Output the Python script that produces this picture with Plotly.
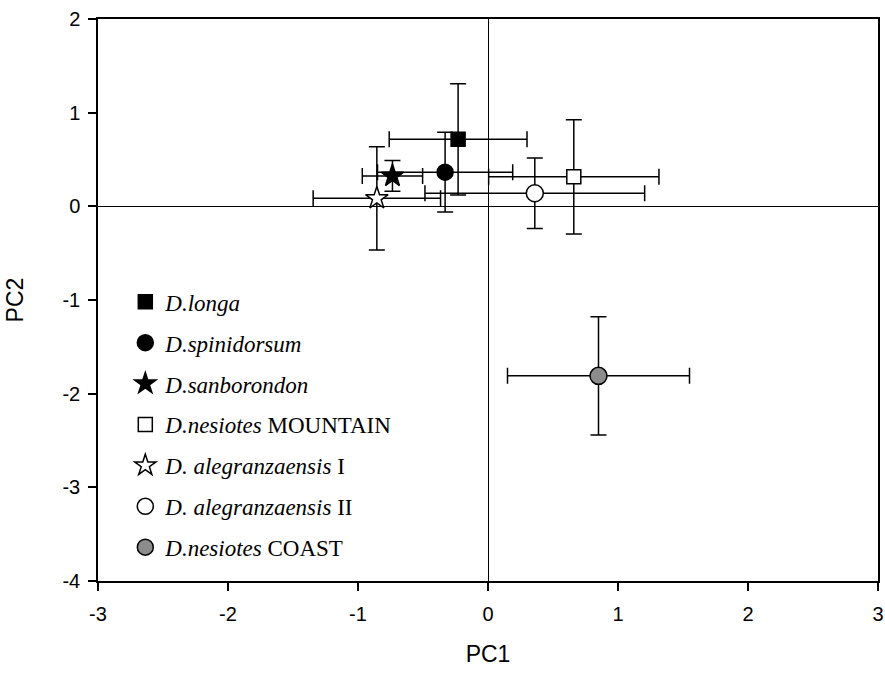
import plotly.graph_objects as go

names = ["<i>D.longa</i>", "<i>D.spinidorsum</i>", "<i>D.sanborondon</i>",
         "<i>D.nesiotes</i> MOUNTAIN", "<i>D. alegranzaensis</i> I",
         "<i>D. alegranzaensis</i> II", "<i>D.nesiotes</i> COAST"]
pc1 = [-0.23, -0.33, -0.735, 0.66, -0.855, 0.36, 0.85]
pc2 = [0.715, 0.365, 0.325, 0.315, 0.085, 0.14, -1.81]
pc1_err = [0.53, 0.52, 0.232, 0.655, 0.49, 0.845, 0.70]
pc2_err = [0.595, 0.425, 0.165, 0.61, 0.55, 0.377, 0.63]

x_ticks = [-3, -2, -1, 0, 1, 2, 3]
x_tick_labels = ["-3", "-2", "-1", "0", "1", "2", "3"]
y_ticks = [-4, -3, -2, -1, 0, 1, 2]
y_tick_labels = ["-4", "-3", "-2", "-1", "0", "1", "2"]

symbols = ["square", "circle", "star", "square", "star", "circle", "circle"]
fills = ["black", "black", "black", "white", "white", "white", "#8c8c8c"]
sizes = [14, 16, 17, 14, 17, 17, 17]

fig = go.Figure()
for i in range(len(names)):
    fig.add_trace(go.Scatter(
        x=[pc1[i]], y=[pc2[i]], mode="markers", name=names[i],
        legendgroup=str(i),
        marker=dict(symbol=symbols[i], size=sizes[i], color=fills[i],
                    line=dict(color="black", width=1.5)),
        error_x=dict(type="data", array=[pc1_err[i]], color="black", thickness=1.5, width=8),
        error_y=dict(type="data", array=[pc2_err[i]], color="black", thickness=1.5, width=8),
    ))

axis_common = dict(
    showgrid=False, showline=True, linecolor="black", linewidth=1.5, mirror=True,
    ticks="outside", ticklen=8, tickcolor="black", tickwidth=1.5,
    zeroline=True, zerolinecolor="black", zerolinewidth=1,
    tickfont=dict(family="Liberation Sans, Arial", size=20, color="black"),
    automargin=False,
)
title_font = dict(family="Liberation Sans, Arial", size=23, color="black")
fig.update_xaxes(range=[-3, 3], tickvals=x_ticks, ticktext=x_tick_labels,
                 ticklabelstandoff=6,
                 title=dict(text="PC1", font=title_font, standoff=22),
                 **axis_common)
fig.update_yaxes(range=[-4, 2], tickvals=y_ticks, ticktext=y_tick_labels,
                 ticklabelstandoff=4,
                 title=dict(text="PC2", font=title_font, standoff=32),
                 **axis_common)

fig.update_layout(
    width=885, height=673,
    margin=dict(l=98, r=7, t=19, b=92),
    plot_bgcolor="white", paper_bgcolor="white",
    legend=dict(x=0.035, y=0.535, xanchor="left", yanchor="top",
                traceorder="grouped", tracegroupgap=8,
                font=dict(family="Liberation Serif, Times New Roman", size=23, color="black"),
                bgcolor="rgba(0,0,0,0)", itemwidth=30),
)

fig.write_html("out.html", config={"displayModeBar": False},
               post_script="document.body.style.margin='0';")
